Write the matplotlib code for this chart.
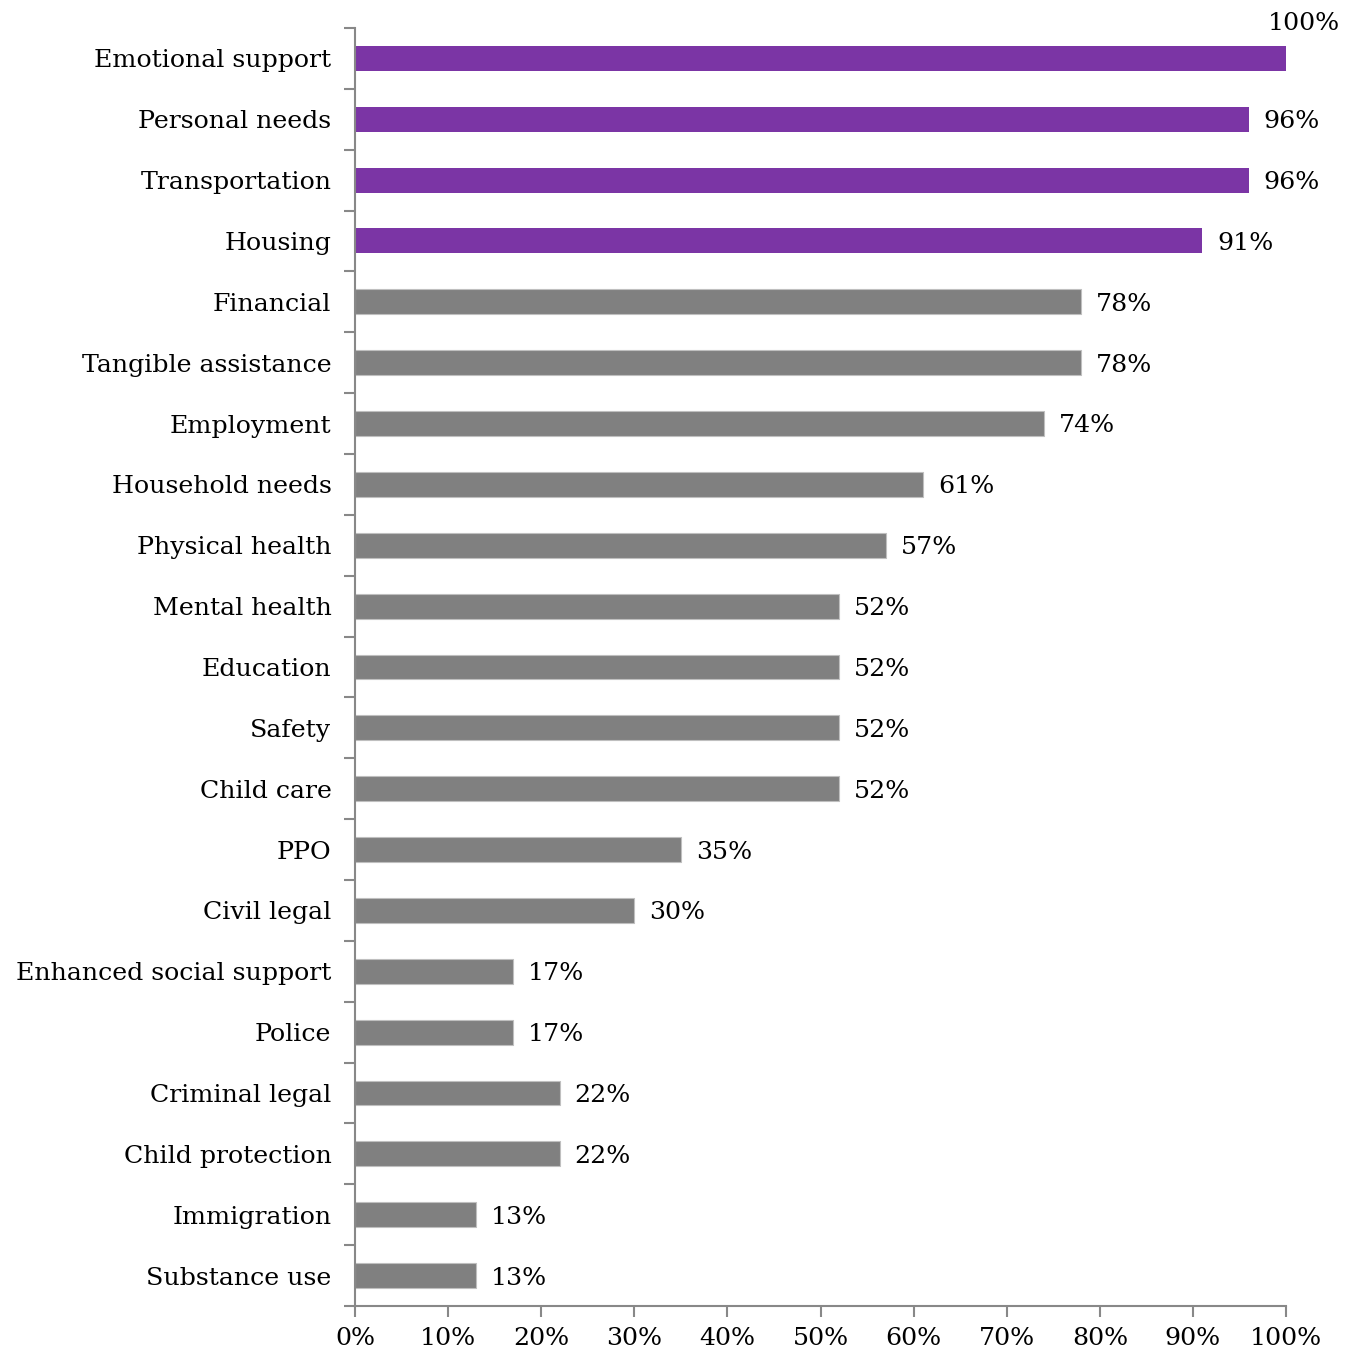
import matplotlib.pyplot as plt
from matplotlib.ticker import PercentFormatter

categories = ["Emotional support", "Personal needs", "Transportation", "Housing",
              "Financial", "Tangible assistance", "Employment", "Household needs",
              "Physical health", "Mental health", "Education", "Safety", "Child care",
              "PPO", "Civil legal", "Enhanced social support", "Police",
              "Criminal legal", "Child protection", "Immigration", "Substance use"]
values = [100, 96, 96, 91, 78, 78, 74, 61, 57, 52, 52, 52, 52, 35, 30, 17, 17, 22, 22, 13, 13]
highlight = 4  # first four bars in purple

purple = "#7B35A5"
grey = "#808080"
fs = 18.2

plt.rcParams['font.family'] = ['DejaVu Serif']
fig = plt.figure(figsize=(13.54, 13.51), dpi=100)
ax = fig.add_axes([0.2622, 0.0333, 0.6876, 0.946])

n = len(categories)
ypos = list(range(n))
colors = [purple if i < highlight else grey for i in range(n)]
ax.barh(ypos, values, height=0.41, color=colors,
        edgecolor=["none" if i < highlight else "#bfbfbf" for i in range(n)], linewidth=0.8)

for y, v in zip(ypos, values):
    if v >= 100:
        ax.text(v + 1.9, y - 0.58, f"{v}%", ha="center", va="center", fontsize=fs)
    else:
        ax.text(v + 1.6, y + 0.04, f"{v}%", ha="left", va="center", fontsize=fs)

ax.set_ylim(n - 0.5, -0.5)
ax.set_xlim(0, 100)
ax.set_yticks([i - 0.5 for i in range(n + 1)])
ax.set_yticklabels([])
ax.set_yticks(ypos, minor=True)
ax.set_yticklabels(categories, minor=True, fontsize=fs)
ax.tick_params(axis="y", which="minor", length=0, pad=17)
ax.tick_params(axis="y", which="major", length=8, width=1.5, color="#888888")
ax.set_xticks(range(0, 101, 10))
ax.xaxis.set_major_formatter(PercentFormatter(decimals=0))
ax.tick_params(axis="x", length=8, width=1.5, color="#888888", labelsize=fs, pad=7)

for side in ["top", "right"]:
    ax.spines[side].set_visible(False)
for side in ["left", "bottom"]:
    ax.spines[side].set_color("#888888")
    ax.spines[side].set_linewidth(1.5)

fig.savefig("out.png", dpi=100)
